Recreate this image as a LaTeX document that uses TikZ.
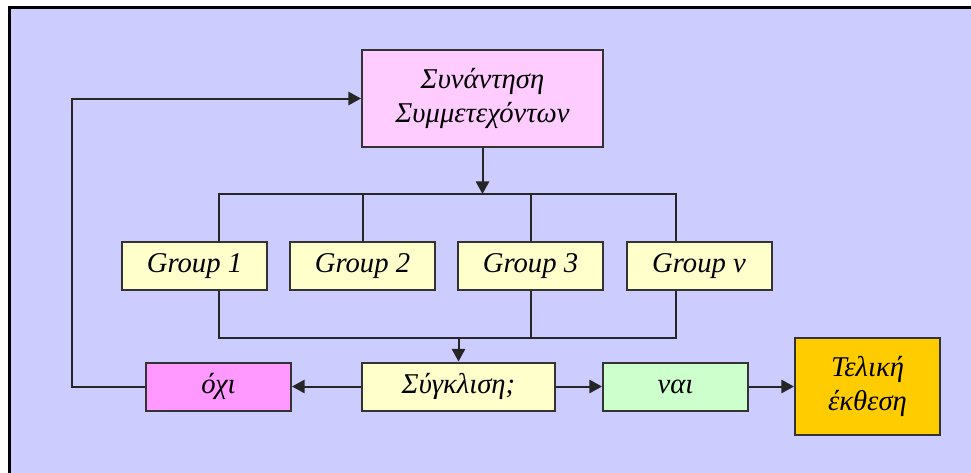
\documentclass[tikz,border=0pt]{standalone}
\usepackage{fontspec}
\setmainfont{Liberation Serif}
\usetikzlibrary{arrows.meta}

\definecolor{pagelilac}{HTML}{CCCCFF}
\definecolor{meetpink}{HTML}{FFCCFF}
\definecolor{groupyellow}{HTML}{FFFFCC}
\definecolor{nomagenta}{HTML}{FF99FF}
\definecolor{yesgreen}{HTML}{CCFFCC}
\definecolor{reportgold}{HTML}{FFCC00}

\tikzstyle{box} = [rectangle, 
draw=black!80, 
line width=1.5pt, 
align=center, 
font=\itshape\fontsize{21.5}{25}\selectfont]
\tikzstyle{meeting} = [box, 
minimum width=180.75pt, 
minimum height=72.75pt, 
fill=meetpink]
\tikzstyle{group} = [box, 
minimum width=108.75pt, 
minimum height=36pt, 
fill=groupyellow]
\tikzstyle{converge} = [group, minimum width=144.75pt]
\tikzstyle{answerno} = [group, fill=nomagenta]
\tikzstyle{answeryes} = [group, fill=yesgreen]
\tikzstyle{report} = [box, 
minimum width=108.75pt, 
minimum height=72.75pt, 
fill=reportgold]
\tikzstyle{line} = [line width=1.5pt, draw=black!85]
\tikzstyle{arrow} = [line, ->, >={Triangle[length=9.5pt,width=10pt]}]

\begin{document}
\begin{tikzpicture}[x=0.75pt, y=-0.75pt]

\useasboundingbox (0,0) rectangle (971,472);
\fill[pagelilac] (9,7.5) rectangle (990,490);
\draw[line width=2.25pt] (9,490) -- (9,7.5) -- (990,7.5);

\node (meet) [meeting] at (482.5,98.5) {Συνάντηση\\Συμμετεχόντων};

\node (g1) [group] at (194.5,266) {Group 1};
\node (g2) [group] at (362.5,266) {Group 2};
\node (g3) [group] at (530.5,266) {Group 3};
\node (gv) [group] at (699,266) {Group ν};

\node (conv) [converge] at (458.5,386.5) {Σύγκλιση;};
\node (no) [answerno] at (218.5,386.5) {όχι};
\node (yes) [answeryes] at (675.5,386.5) {ναι};
\node (final) [report] at (867.5,386.5) {Τελική\\έκθεση};

\coordinate (split) at (482.5,194);
\coordinate (join) at (458.5,338);

% split to the groups
\draw [arrow] (meet) -- (split);
\draw [line] (no |- g1.north) -- (no |- split) -- (yes |- split) -- (yes |- gv.north);
\draw [line] (g2.north |- split) -- (g2.north);
\draw [line] (g3.north |- split) -- (g3.north);

% join back
\draw [line] (no |- g1.south) -- (no |- join) -- (yes |- join) -- (yes |- gv.south);
\draw [line] (g3.south) -- (g3.south |- join);
\draw [arrow] (join) -- (conv);

\draw [arrow] (conv) -- (no);
\draw [arrow] (conv) -- (yes);
\draw [arrow] (yes) -- (final);
\draw [arrow] (no.west) -- ++(-73,0) |- (meet.west);

\end{tikzpicture}
\end{document}
